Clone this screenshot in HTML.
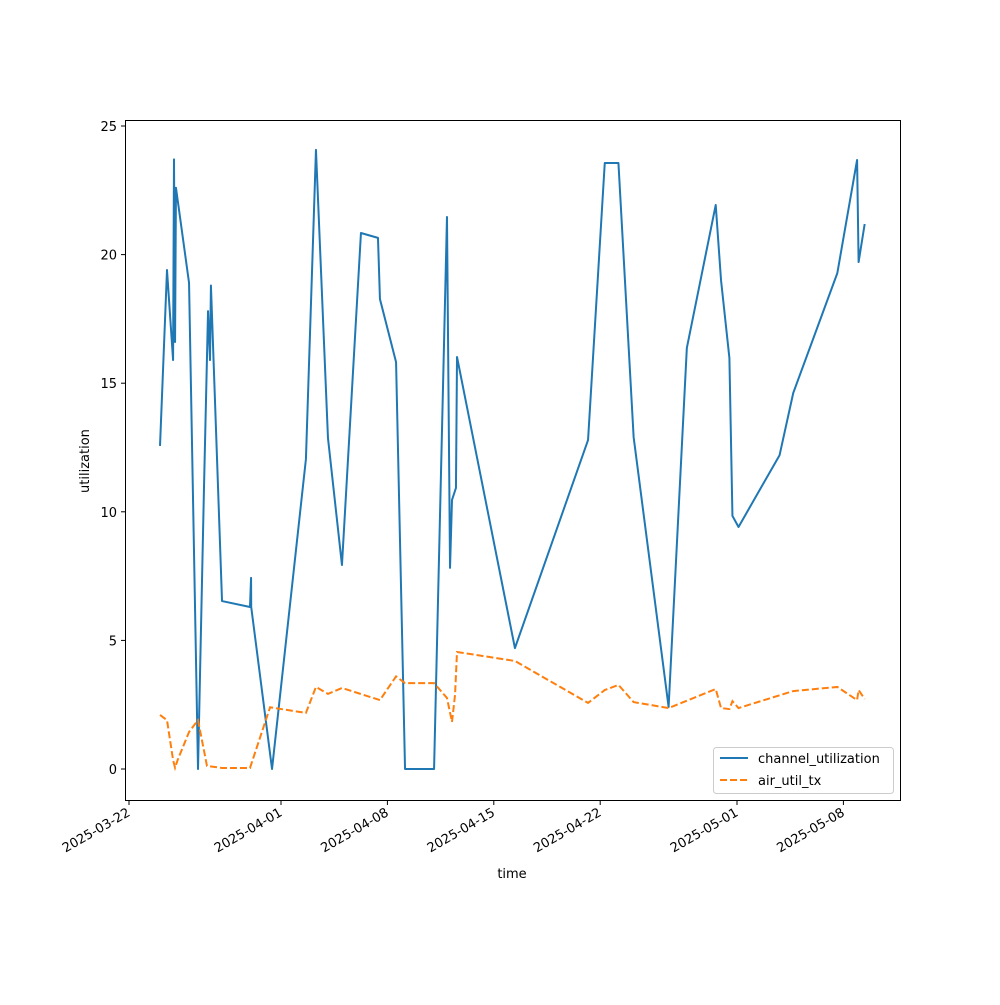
<!DOCTYPE html>
<html><head><meta charset="utf-8"><style>
body{margin:0;background:#fff}
text{font-family:"DejaVu Sans","Liberation Sans",sans-serif;font-size:13px;fill:#000}
</style></head><body>
<svg id="chart" width="1000" height="1000" xmlns="http://www.w3.org/2000/svg">
<rect x="0" y="0" width="1000" height="1000" fill="#fff"/>
<g id="plot"></g>
<rect x="125.5" y="120.5" width="775" height="680" fill="none" stroke="#000" stroke-width="1"/>
<text x="512" y="878" text-anchor="middle">time</text>
<text transform="translate(89,461) rotate(-90)" text-anchor="middle">utilization</text>
<g>
<rect x="713.5" y="747.5" width="180" height="46" rx="3" fill="#fff" fill-opacity="0.8" stroke="#ccc"/>
<g>
<line x1="720" y1="758" x2="748" y2="758" stroke="#1f77b4" stroke-width="2"/>
<text x="758" y="763">channel_utilization</text></g>
<g>
<line x1="720" y1="780" x2="748" y2="780" stroke="#ff7f0e" stroke-width="2" stroke-dasharray="7,3"/>
<text x="758" y="785">air_util_tx</text></g>
</g>
</svg>
<script>
// days since 2025-03-22
const chanDays=[2.04,2.5,2.9,2.96,3.03,3.09,3.95,4.54,4.93,5.2,5.33,5.39,6.12,7.96,8.03,8.04,9.41,11.64,12.3,13.09,14.01,15.26,16.38,16.51,17.57,18.16,20.07,20.92,21.12,21.25,21.51,21.58,25.39,30.2,31.3,32.2,33.2,35.5,36.7,38.6,38.95,39.5,39.7,40.1,42.8,43.7,46.6,47.9,48.0,48.4];
const chanVals=[12.56,19.4,15.9,23.7,16.6,22.6,18.9,0,10.85,17.8,15.9,18.8,6.53,6.3,7.43,6.3,0,12.05,24.07,12.87,7.93,20.84,20.65,18.27,15.82,0,0,21.46,7.82,10.46,10.93,16.02,4.7,12.79,23.56,23.56,12.9,2.41,16.37,21.93,19.0,15.98,9.84,9.41,12.2,14.62,19.28,23.68,19.71,21.19];
const airDays=[2.04,2.5,2.9,3.03,3.2,3.95,4.54,5.13,6.12,7.96,9.28,11.64,12.3,13.09,14.01,16.51,17.57,18.16,20.07,20.92,21.25,21.45,21.58,25.39,30.2,31.3,32.2,33.2,35.5,38.6,38.95,39.5,39.7,40.1,43.7,46.6,47.9,48.0,48.4];
const airVals=[2.1,1.9,0.35,0.05,0.35,1.44,1.9,0.12,0.04,0.04,2.4,2.18,3.19,2.92,3.15,2.68,3.6,3.34,3.34,2.76,1.83,2.88,4.55,4.2,2.57,3.07,3.27,2.6,2.37,3.11,2.37,2.33,2.64,2.37,3.03,3.19,2.68,3.07,2.72];
const xTickDays=[0,10,17,24,31,40,47];
const xTickLabels=["2025-03-22","2025-04-01","2025-04-08","2025-04-15","2025-04-22","2025-05-01","2025-05-08"];
const yTicks=[0,5,10,15,20,25];

const X=d=>129+d*15.2;
const Y=v=>769-v*25.72;
const NS="http://www.w3.org/2000/svg";
const plot=document.getElementById('plot');
function mk(t,a){const e=document.createElementNS(NS,t);for(const k in a)e.setAttribute(k,a[k]);plot.appendChild(e);return e;}
yTicks.forEach(v=>{
  const l=mk('line',{x1:121,x2:125,y1:Y(v),y2:Y(v),stroke:'#000'});
  
  
  const t=mk('text',{x:117,y:Y(v)+5,'text-anchor':'end'});t.textContent=v;
  
  
});
xTickDays.forEach((d,i)=>{
  const x=X(d);
  const l=mk('line',{x1:x,x2:x,y1:801,y2:805,stroke:'#000'});
  
  
  const t=mk('text',{transform:`translate(${x+2},${815}) rotate(-30)`,'text-anchor':'end'});t.textContent=xTickLabels[i];
  
  
});
const p1=mk('polyline',{points:chanDays.map((d,i)=>X(d)+','+Y(chanVals[i])).join(' '),fill:'none',stroke:'#1f77b4','stroke-width':2,'stroke-linejoin':'round'});


const p2=mk('polyline',{points:airDays.map((d,i)=>X(d)+','+Y(airVals[i])).join(' '),fill:'none',stroke:'#ff7f0e','stroke-width':2,'stroke-dasharray':'7,3'});


</script>
</body></html>
